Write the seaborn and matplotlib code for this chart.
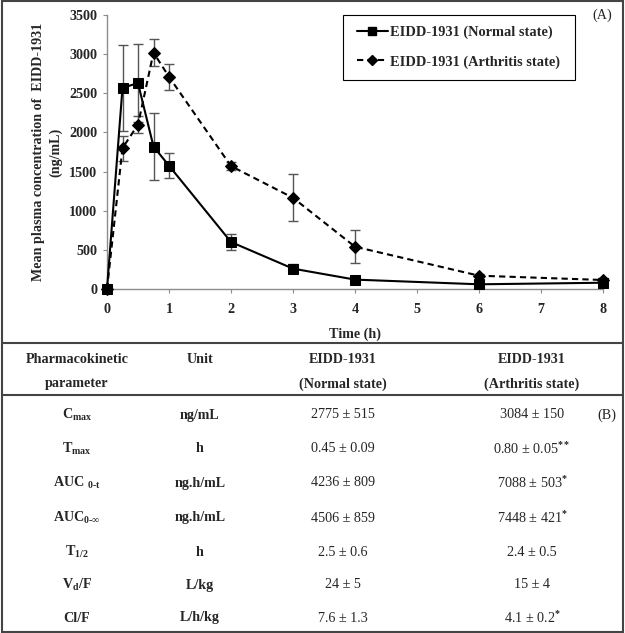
import matplotlib
matplotlib.use("Agg")
import matplotlib.pyplot as plt
from matplotlib.lines import Line2D
import seaborn as sns
import pandas as pd

# concentration-time data (mean +/- sd)
time = [0, 0.25, 0.5, 0.75, 1, 2, 3, 4, 6, 8]
normal_mean = [0, 2570, 2630, 1820, 1575, 600, 260, 120, 60, 80]
normal_sd = [0, 550, 500, 430, 160, 100, 55, 20, 15, 15]
arth_mean = [0, 1800, 2100, 3020, 2710, 1570, 1165, 540, 170, 115]
arth_sd = [0, 160, 105, 175, 170, 55, 300, 210, 20, 20]

x_ticks = [0, 1, 2, 3, 4, 5, 6, 7, 8]
y_ticks = [0, 500, 1000, 1500, 2000, 2500, 3000, 3500]

# PK parameter table
params = [r"C$_{max}$", r"T$_{max}$", r"AUC $_{0\text{-}t}$", r"AUC$_{0\text{-}\infty}$",
          r"T$_{1/2}$", r"V$_{d}$/F", "Cl/F"]
units = ["ng/mL", "h", "ng.h/mL", "ng.h/mL", "h", "L/kg", "L/h/kg"]
normal_vals = ["2775 ± 515", "0.45 ± 0.09", "4236 ± 809", "4506 ± 859", "2.5 ± 0.6", "24 ± 5", "7.6 ± 1.3"]
arth_vals = ["3084 ± 150", r"0.80 ± 0.05$^{**}$", r"7088 ± 503$^{*}$", r"7448 ± 421$^{*}$",
             "2.4 ± 0.5", "15 ± 4", r"4.1 ± 0.2$^{*}$"]

sns.set_style("ticks")
plt.rcParams["font.family"] = ["Liberation Serif", "DejaVu Serif"]
plt.rcParams["mathtext.fontset"] = "custom"
plt.rcParams["mathtext.rm"] = "Liberation Serif:bold"
plt.rcParams["mathtext.it"] = "Liberation Serif:bold"
plt.rcParams["mathtext.bf"] = "Liberation Serif:bold"
plt.rcParams["font.size"] = 10.2

W, H = 625, 633
def fx(p):
    return p / W
def fy(p):
    return 1 - p / H

fig = plt.figure(figsize=(W / 100, H / 100), dpi=100)
ax = fig.add_axes([fx(107), fy(289), fx(603) - fx(107), fy(15) - fy(289)])

df = pd.concat([
    pd.DataFrame({"time": time, "conc": normal_mean, "state": "Normal"}),
    pd.DataFrame({"time": time, "conc": arth_mean, "state": "Arthritis"}),
])

ax.errorbar(time, normal_mean, yerr=normal_sd, fmt="none", ecolor="#555555",
            elinewidth=1, capsize=3.5, clip_on=False, zorder=2)
ax.errorbar(time, arth_mean, yerr=arth_sd, fmt="none", ecolor="#555555",
            elinewidth=1, capsize=3.5, clip_on=False, zorder=2)

sns.lineplot(data=df, x="time", y="conc", style="state", color="black",
             markers={"Normal": "s", "Arthritis": "D"},
             dashes={"Normal": "", "Arthritis": (3, 2)},
             markersize=6.5, markeredgecolor="black", linewidth=1.5,
             legend=False, ax=ax, clip_on=False, zorder=3)

ax.set_xlim(0, 8)
ax.set_ylim(0, 3500)
ax.set_xticks(x_ticks)
ax.set_yticks(y_ticks)
for lab in ax.get_xticklabels() + ax.get_yticklabels():
    lab.set_fontweight("bold")
ax.tick_params(axis="x", length=3, pad=7, color="#8c8c8c", labelsize=10.2)
ax.tick_params(axis="y", length=3, pad=4, color="#8c8c8c", labelsize=10.2)
for s in ["top", "right"]:
    ax.spines[s].set_visible(False)
for s in ["left", "bottom"]:
    ax.spines[s].set_color("#8c8c8c")
    ax.spines[s].set_linewidth(1)

ax.set_xlabel("Time (h)", fontweight="bold", fontsize=10.2)
ax.xaxis.set_label_coords(0.5, -0.142)
ax.set_ylabel("Mean plasma concentration of  EIDD-1931\n(ng/mL)",
              fontweight="bold", fontsize=10.2, linespacing=1.4)
ax.yaxis.set_label_coords(-0.09, 0.5)

handles = [
    Line2D([], [], color="black", lw=1.5, marker="s", markersize=6, label="EIDD-1931 (Normal state)"),
    Line2D([], [], color="black", lw=1.5, ls=(0, (3, 2)), marker="D", markersize=5,
           label="EIDD-1931 (Arthritis state)"),
]
leg = ax.legend(handles=handles, loc="upper left", bbox_to_anchor=(fx(343), fy(15)),
                bbox_transform=fig.transFigure, borderaxespad=0, fancybox=False,
                edgecolor="black", framealpha=1, handlelength=2.1, handletextpad=0.2,
                labelspacing=1.1, borderpad=0.75,
                prop={"family": "Liberation Serif", "weight": "bold", "size": 10.4})
leg.get_frame().set_linewidth(0.8)
leg._legend_box.set_width(210)  # a little room on the right as in the original

fig.text(fx(602), fy(15), "(A)", ha="center", va="center")

# table part
line_kw = dict(color="#444444", lw=1.5, transform=fig.transFigure)
fig.add_artist(Line2D([fx(2), fx(623)], [fy(343), fy(343)], **line_kw))
fig.add_artist(Line2D([fx(2), fx(623)], [fy(395), fy(395)], **line_kw))
fig.add_artist(plt.Rectangle((fx(2), fy(632)), fx(621), fy(1) - fy(632), fill=False,
                             edgecolor="#444444", lw=1.5, transform=fig.transFigure))

col_x = [77, 200, 343, 532]
fig.text(fx(col_x[0]), fy(359), "Pharmacokinetic", ha="center", va="center", fontweight="bold")
fig.text(fx(col_x[0]), fy(384), "parameter", ha="center", va="center", fontweight="bold")
fig.text(fx(col_x[1]), fy(359), "Unit", ha="center", va="center", fontweight="bold")
fig.text(fx(col_x[2]), fy(359), "EIDD-1931", ha="center", va="center", fontweight="bold")
fig.text(fx(col_x[2]), fy(384), "(Normal state)", ha="center", va="center", fontweight="bold")
fig.text(fx(col_x[3]), fy(359), "EIDD-1931", ha="center", va="center", fontweight="bold")
fig.text(fx(col_x[3]), fy(384), "(Arthritis state)", ha="center", va="center", fontweight="bold")

row_y = [415, 449, 483, 518, 552, 585, 618]
for i, ry in enumerate(row_y):
    fig.text(fx(col_x[0]), fy(ry), params[i], ha="center", va="center", fontweight="bold")
    fig.text(fx(col_x[1]), fy(ry), units[i], ha="center", va="center", fontweight="bold")
    fig.text(fx(col_x[2]), fy(ry), normal_vals[i], ha="center", va="center")
    fig.text(fx(col_x[3]), fy(ry), arth_vals[i], ha="center", va="center")

fig.text(fx(607), fy(415), "(B)", ha="center", va="center")

fig.savefig("out.png", dpi=100, facecolor="white")
